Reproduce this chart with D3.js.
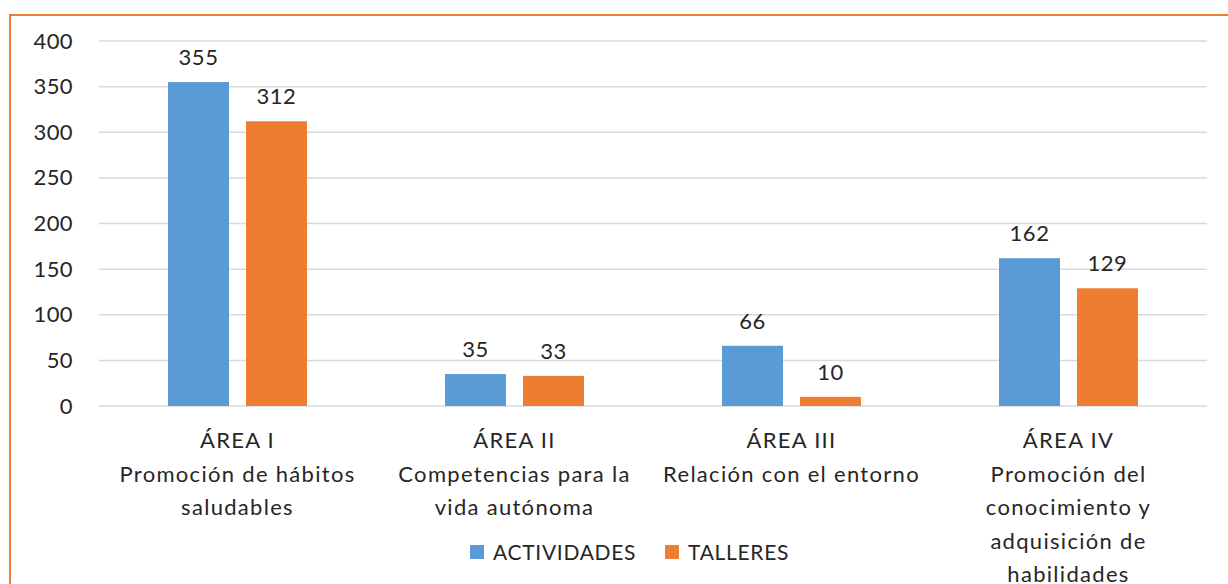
<!DOCTYPE html>
<html>
  <head>
    <meta charset="utf-8">
    <title>Actividades y talleres por área</title>
    <script src="https://d3js.org/d3.v7.min.js"></script>
    <style>
      body { margin: 0; background: #fff; }
      text { font-family: Lato, "Open Sans", sans-serif; fill: #262626; }
    </style>
  </head>
  <body>
    <div id="chart"></div>
    <script>
      // data
      const categories = [
        ["ÁREA I", "Promoción de hábitos", "saludables"],
        ["ÁREA II", "Competencias para la", "vida autónoma"],
        ["ÁREA III", "Relación con el entorno"],
        ["ÁREA IV", "Promoción del", "conocimiento y", "adquisición de", "habilidades"]
      ];
      const seriesNames = ["ACTIVIDADES", "TALLERES"];
      const actividades = [355, 35, 66, 162];
      const talleres = [312, 33, 10, 129];
      const yTicks = [0, 50, 100, 150, 200, 250, 300, 350, 400];
      const colors = ["#5B9BD5", "#ED7D31"];

      const W = 1228, H = 584;
      const margin = { top: 41, right: 21, bottom: 178, left: 99 };
      const width = W - margin.left - margin.right;
      const height = H - margin.top - margin.bottom;

      const svg = d3.select("#chart").append("svg")
        .attr("width", W).attr("height", H);

      // orange frame, runs off the right and bottom edges
      svg.append("rect")
        .attr("x", 10).attr("y", 15)
        .attr("width", W + 20).attr("height", H + 20)
        .attr("fill", "none")
        .attr("stroke", "#ED7D31")
        .attr("stroke-width", 2);

      const g = svg.append("g")
        .attr("transform", `translate(${margin.left},${margin.top})`);

      const catKeys = categories.map((c) => c[0]);
      const x0 = d3.scaleBand().domain(catKeys).range([0, width]).padding(0);
      const x1 = d3.scaleBand().domain(seriesNames).range([0, x0.bandwidth()])
        .paddingInner(0.218).paddingOuter(0.885);
      const y = d3.scaleLinear().domain([0, 400]).range([height, 0]);

      // gridlines
      g.selectAll(".grid")
        .data(yTicks)
        .enter()
        .append("line")
        .attr("x1", 0).attr("x2", width)
        .attr("y1", (d) => y(d)).attr("y2", (d) => y(d))
        .attr("stroke", "#d9d9d9")
        .attr("stroke-width", 1.5);

      // y axis labels
      const yAxis = g.append("g")
        .call(d3.axisLeft(y).tickValues(yTicks).tickSize(0).tickPadding(26));
      yAxis.select(".domain").remove();
      yAxis.selectAll("text")
        .style("font-size", "22px")
        .style("font-family", "Lato, sans-serif")
        .style("letter-spacing", "0.4px")
        .attr("fill", "#262626");

      // bars
      const rows = catKeys.map((k, i) => ({ key: k, values: [actividades[i], talleres[i]] }));
      const groups = g.selectAll(".cat")
        .data(rows)
        .enter()
        .append("g")
        .attr("transform", (d) => `translate(${x0(d.key)},0)`);

      groups.selectAll("rect")
        .data((d) => d.values.map((v, j) => ({ name: seriesNames[j], v, j })))
        .enter()
        .append("rect")
        .attr("x", (d) => x1(d.name))
        .attr("y", (d) => y(d.v))
        .attr("width", x1.bandwidth())
        .attr("height", (d) => height - y(d.v))
        .attr("fill", (d) => colors[d.j]);

      groups.selectAll(".lbl")
        .data((d) => d.values.map((v, j) => ({ name: seriesNames[j], v })))
        .enter()
        .append("text")
        .attr("x", (d) => x1(d.name) + x1.bandwidth() / 2)
        .attr("y", (d) => y(d.v) - 17)
        .attr("text-anchor", "middle")
        .style("font-size", "22px")
        .style("letter-spacing", "0.5px")
        .text((d) => d.v);

      // category labels
      groups.append("text")
        .attr("text-anchor", "middle")
        .attr("transform", `translate(${x0.bandwidth() / 2},${height + 42})`)
        .style("font-size", "22px")
        .style("letter-spacing", "1.3px")
        .selectAll("tspan")
        .data((d, i) => categories[i])
        .enter()
        .append("tspan")
        .attr("x", 0)
        .attr("dy", (d, i) => (i === 0 ? 0 : 33.5))
        .text((d) => d);

      // legend
      const legendX = [470, 665];
      const legend = svg.append("g").attr("transform", "translate(0,552)");
      const items = legend.selectAll(".item")
        .data(seriesNames)
        .enter()
        .append("g")
        .attr("transform", (d, i) => `translate(${legendX[i]},0)`);
      items.append("rect")
        .attr("x", 0).attr("y", -7)
        .attr("width", 14).attr("height", 14)
        .attr("fill", (d, i) => colors[i]);
      items.append("text")
        .attr("x", 23).attr("y", 8)
        .style("font-size", "21px")
        .style("letter-spacing", "0.7px")
        .text((d) => d);
    </script>
  </body>
</html>
